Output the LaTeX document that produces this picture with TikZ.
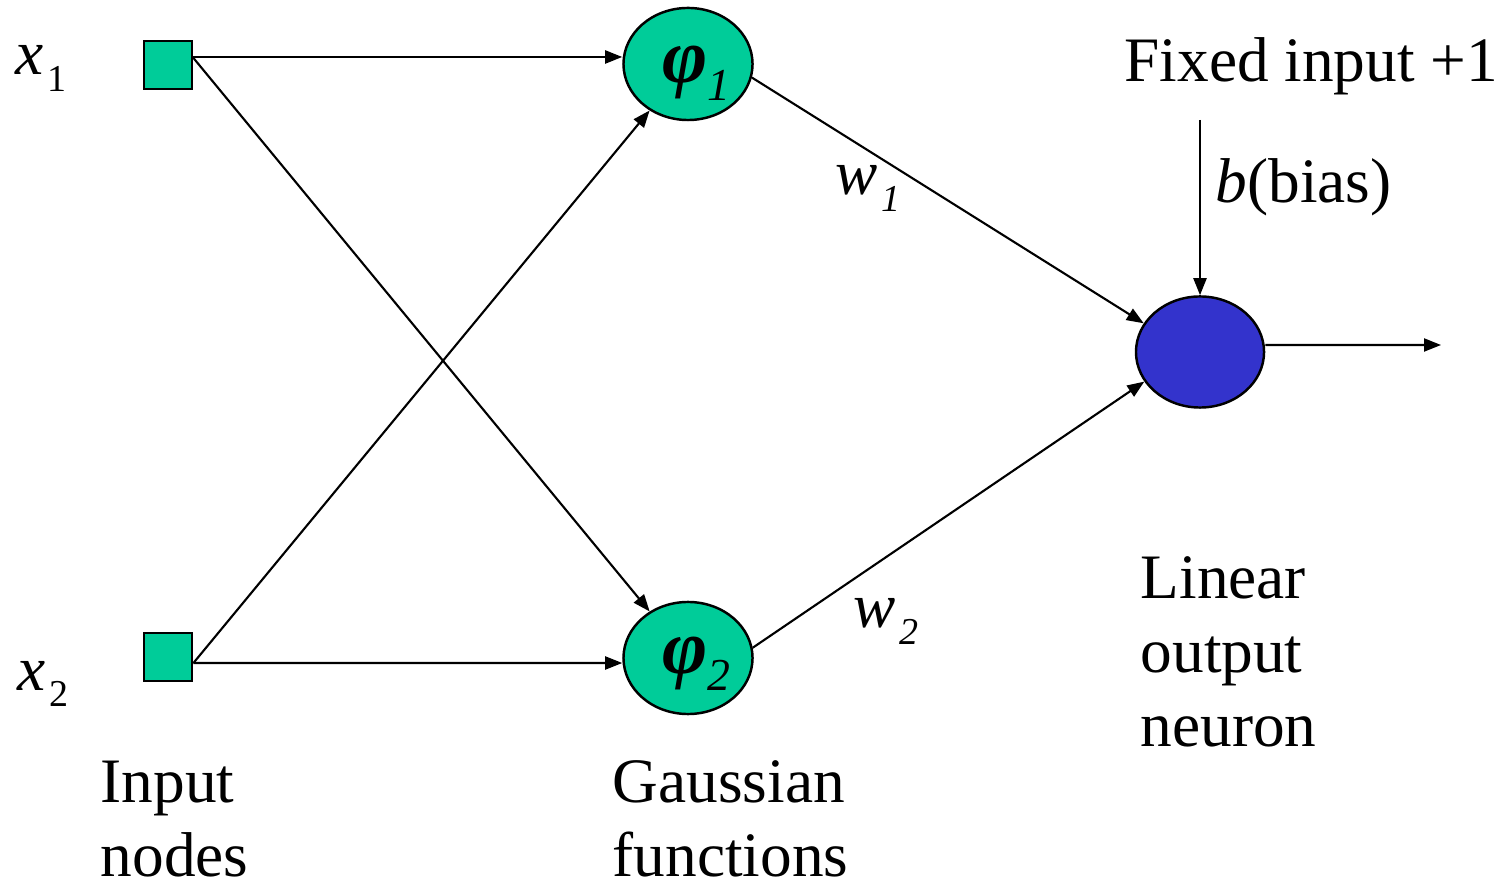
\documentclass[tikz,border=0pt]{standalone}
\usepackage{fontspec}
\setmainfont{Liberation Serif}
\usetikzlibrary{shapes.geometric,arrows.meta}
\definecolor{gr}{RGB}{0,204,153}
\definecolor{bl}{RGB}{51,51,204}
\newcommand{\mainsz}{\fontsize{18pt}{21pt}\selectfont}
\newcommand{\subsz}{\fontsize{10.8pt}{12pt}\selectfont}
\newcommand{\phisz}{\fontsize{22pt}{24pt}\selectfont}
\newcommand{\phisub}{\fontsize{13pt}{14pt}\selectfont}
\newcommand{\lowsub}[1]{\raisebox{-4.6pt}{\subsz #1}}
\newcommand{\phisubx}[1]{\raisebox{-5pt}{\phisub\itshape #1}}
\begin{document}
\begin{tikzpicture}[x=0.01cm,y=-0.01cm,
  sq/.style={draw,fill=gr,line width=0.8pt,minimum size=0.48cm,inner sep=0},
  hid/.style={ellipse,draw,line width=0.7pt,fill=gr,minimum width=1.29cm,minimum height=1.12cm,inner sep=0},
  outn/.style={ellipse,draw,line width=0.7pt,fill=bl,minimum width=1.28cm,minimum height=1.11cm,inner sep=0},
  arr/.style={line width=0.6pt,-{Triangle[length=0.17cm,width=0.13cm]}},
  lbl/.style={font=\mainsz,inner sep=0,anchor=base west,align=left},
  phil/.style={font=\phisz,inner sep=0,anchor=base west}]
\useasboundingbox (0,0) rectangle (1510,886);
% nodes
\node[sq] (s1) at (168,65) {};
\node[sq] (s2) at (168,657) {};
\node[hid] (p1) at (688,64) {};
\node[hid] (p2) at (688,658) {};
\node[outn] (o) at (1200,352) {};
\coordinate (bias) at (1200,120);
\coordinate (out) at (1441,345);
% symbols in the units
\node[phil] (p1t) at (662,83) {\textbf{\textit{φ}}\phisubx{1}};
\node[phil] (p2t) at (662,673) {\textbf{\textit{φ}}\phisubx{2}};
% connectors
\draw[arr] ([yshift=0.08cm]s1.east) -- ([yshift=0.07cm]p1.west);
\draw[arr] ([yshift=0.07cm]s1.east) -- (p2);
\draw[arr] ([yshift=-0.06cm]s2.east) -- (p1);
\draw[arr] ([yshift=-0.06cm]s2.east) -- ([yshift=-0.05cm]p2.west);
\draw[arr] (p1.-12) -- (o.153);
\draw[arr] (p2.9) -- (o.208);
\draw[arr] (bias) -- (o.north);
\draw[arr] ([yshift=0.07cm]o.east) -- (out);
% labels
\node[lbl] (x1) at (15,75) {\textit{x}\kern1pt\lowsub{1}};
\node[lbl] (x2) at (17,690) {\textit{x}\kern1pt\lowsub{2}};
\node[lbl] (w1) at (835,195) {\textit{w}\kern1pt\lowsub{\textit{1}}};
\node[lbl] (w2) at (853,628) {\textit{w}\kern1pt\lowsub{\textit{2}}};
\node[lbl] (fix) at (1124,82) {Fixed input +1};
\node[lbl] (b) at (1215,203) {\textit{b}(bias)};
\node[lbl] (inp) at (100,876) {Input\\nodes};
\node[lbl] (gau) at (612,876) {Gaussian\\functions};
\node[lbl] (lin) at (1140,746) {Linear\\output\\neuron};
\end{tikzpicture}
\end{document}
